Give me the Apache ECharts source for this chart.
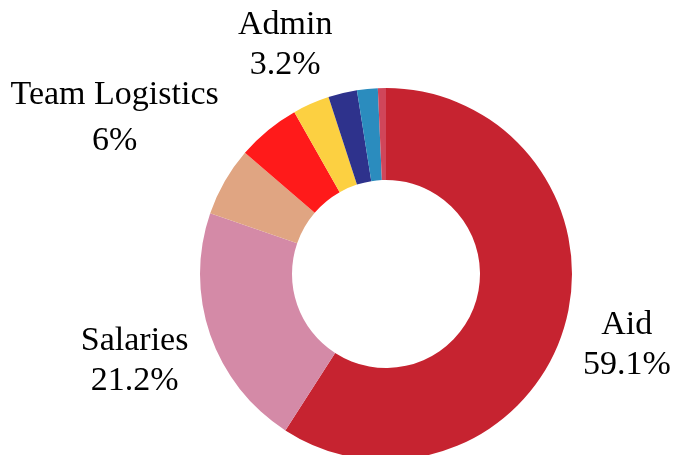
<!DOCTYPE html>
<html>
<head>
<meta charset="utf-8">
<script src="https://cdn.jsdelivr.net/npm/echarts@6/dist/echarts.min.js"></script>
<style>
html, body { margin: 0; padding: 0; background: #fff; }
#chart { width: 677px; height: 455px; }
</style>
</head>
<body>
<div id="chart"></div>
<script>
// slice names and shares (%), clockwise from 12 o'clock
var categories = ['Aid', 'Salaries', 'Team Logistics', 'Equipment', 'Admin', 'Travel', 'Communications', 'Other'];
var values = [59.1, 21.2, 6, 5.5, 3.2, 2.5, 1.8, 0.7];
var labelled = ['Aid', 'Salaries', 'Team Logistics', 'Admin'];

var palette = ['#c62330', '#d48aa7', '#e0a582', '#ff1a1a', '#fcd041', '#2e328c', '#2b8cbe', '#d0465a'];
var cx = 386, cy = 274;
var labelRadius = { 'Aid': 251, 'Salaries': 266, 'Team Logistics': 313, 'Admin': 250 };

var total = values.reduce(function (a, b) { return a + b; }, 0);
function midAngle(i) {
    var s = 0;
    for (var j = 0; j < i; j++) s += values[j];
    return (s + values[i] / 2) / total * Math.PI * 2;
}

var myChart = echarts.init(document.getElementById('chart'));

var option = {
    animation: false,
    color: palette,
    textStyle: { fontFamily: 'Liberation Serif' },
    series: [{
        type: 'pie',
        center: [cx, cy],
        radius: [94, 186],
        startAngle: 90,
        clockwise: true,
        avoidLabelOverlap: false,
        emphasis: { disabled: true },
        label: {
            show: true,
            position: 'outside',
            formatter: '{b}\n{c}%',
            fontFamily: 'Liberation Serif',
            fontSize: 34,
            lineHeight: 40,
            color: '#000'
        },
        labelLine: { show: false },
        labelLayout: function (p) {
            var a = midAngle(p.dataIndex);
            var r = labelRadius[categories[p.dataIndex]] || 252;
            return {
                x: cx + r * Math.sin(a),
                y: cy - r * Math.cos(a),
                align: 'center',
                verticalAlign: 'middle'
            };
        },
        data: categories.map(function (name, i) {
            var item = { name: name, value: values[i] };
            if (labelled.indexOf(name) < 0) {
                item.label = { show: false };
            } else if (name === 'Team Logistics') {
                item.label = { lineHeight: 46 };
            }
            return item;
        })
    }]
};

myChart.setOption(option);
window.addEventListener('resize', function () {
    myChart.resize();
});
</script>
</body>
</html>
